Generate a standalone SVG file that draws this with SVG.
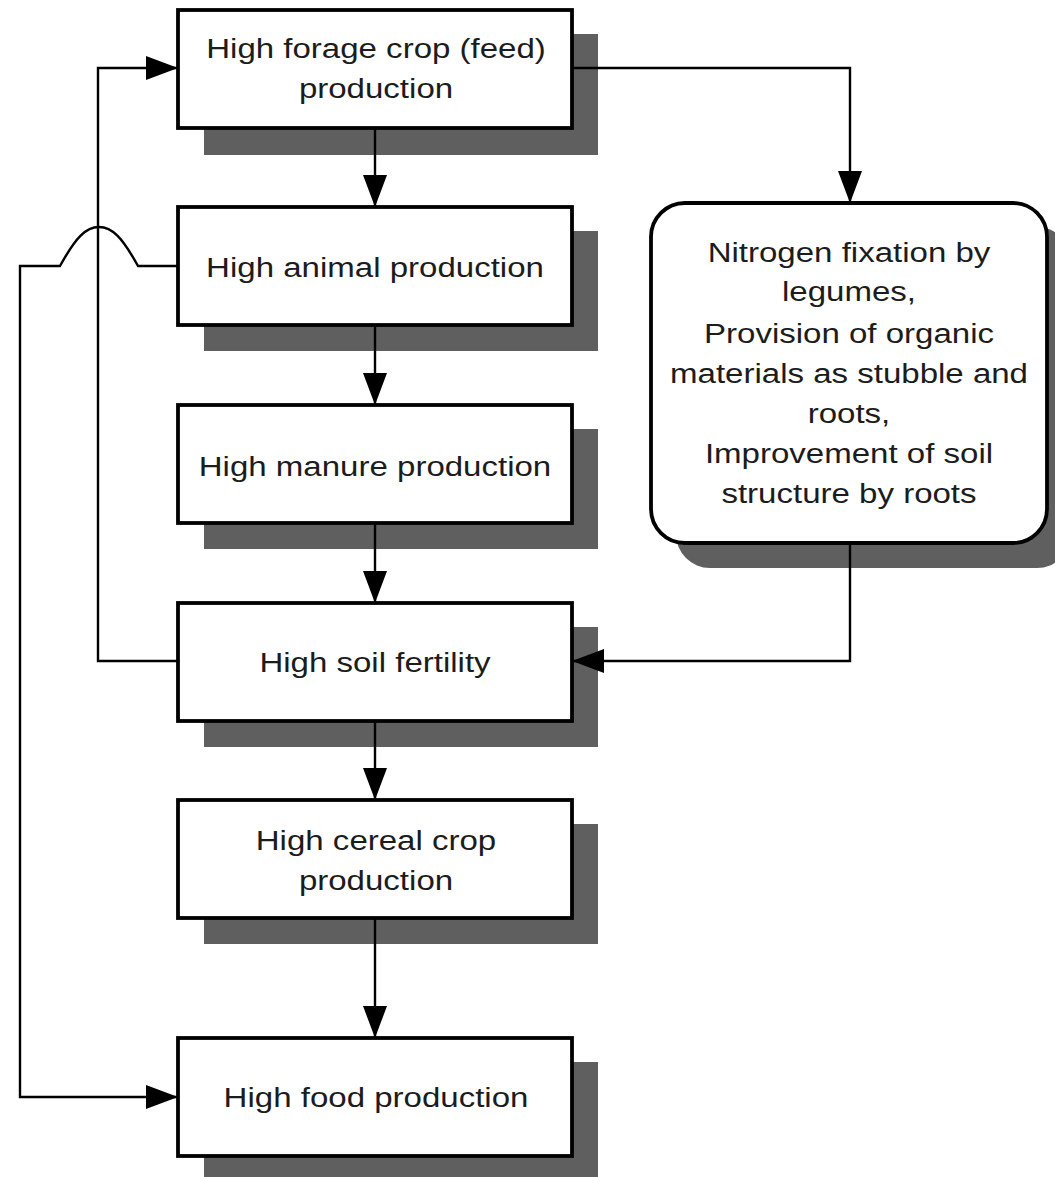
<svg xmlns="http://www.w3.org/2000/svg" width="1055" height="1177" viewBox="0 0 1055 1177">
<style>
.shadow{fill:#5f5f5f;}
.box{fill:#ffffff;stroke:#000000;stroke-width:3.8;}
.lbl{font-family:"Liberation Sans",Arial,sans-serif;font-size:28px;fill:#1c1c1c;text-anchor:middle;}
.conn{fill:none;stroke:#000000;stroke-width:2.4;}
</style>
<defs>
<marker id="arr" viewBox="0 0 32 24" refX="32" refY="12" markerWidth="32" markerHeight="24" markerUnits="userSpaceOnUse" orient="auto">
<path d="M0,0 L32,12 L0,24 Z" fill="#000000"/>
</marker>
</defs>
<rect x="0" y="0" width="1055" height="1177" fill="#ffffff"/>

<g id="forage">
<rect class="shadow" x="204" y="34" width="394" height="121"/>
<rect class="box" x="178" y="10" width="394" height="118"/>
<text class="lbl" transform="translate(376 58) scale(1.18 1)">High forage crop (feed)</text>
<text class="lbl" transform="translate(376 98) scale(1.18 1)">production</text>
</g>

<g id="animal">
<rect class="shadow" x="204" y="231" width="394" height="120"/>
<rect class="box" x="178" y="207" width="394" height="118"/>
<text class="lbl" transform="translate(375 277) scale(1.18 1)">High animal production</text>
</g>

<g id="manure">
<rect class="shadow" x="204" y="429" width="394" height="120"/>
<rect class="box" x="178" y="405" width="394" height="118"/>
<text class="lbl" transform="translate(375 476) scale(1.18 1)">High manure production</text>
</g>

<g id="soil">
<rect class="shadow" x="204" y="627" width="394" height="120"/>
<rect class="box" x="178" y="603" width="394" height="118"/>
<text class="lbl" transform="translate(375 672) scale(1.18 1)">High soil fertility</text>
</g>

<g id="cereal">
<rect class="shadow" x="204" y="824" width="394" height="120"/>
<rect class="box" x="178" y="800" width="394" height="118"/>
<text class="lbl" transform="translate(376 850) scale(1.18 1)">High cereal crop</text>
<text class="lbl" transform="translate(376 890) scale(1.18 1)">production</text>
</g>

<g id="food">
<rect class="shadow" x="204" y="1062" width="394" height="120"/>
<rect class="box" x="178" y="1038" width="394" height="118"/>
<text class="lbl" transform="translate(376 1107) scale(1.18 1)">High food production</text>
</g>

<g id="legumes">
<rect class="shadow" x="676" y="227" width="395" height="341" rx="34" ry="34"/>
<rect class="box" x="651" y="203" width="396" height="340" rx="34" ry="34"/>
<text class="lbl" transform="translate(849 262) scale(1.18 1)">Nitrogen fixation by</text>
<text class="lbl" transform="translate(849 301) scale(1.18 1)">legumes,</text>
<text class="lbl" transform="translate(849 343) scale(1.18 1)">Provision of organic</text>
<text class="lbl" transform="translate(849 383) scale(1.18 1)">materials as stubble and</text>
<text class="lbl" transform="translate(849 423) scale(1.18 1)">roots,</text>
<text class="lbl" transform="translate(849 463) scale(1.18 1)">Improvement of soil</text>
<text class="lbl" transform="translate(849 503) scale(1.18 1)">structure by roots</text>
</g>

<g id="connectors">
<path class="conn" d="M375,128 V207" marker-end="url(#arr)"/>
<path class="conn" d="M375,325 V405" marker-end="url(#arr)"/>
<path class="conn" d="M375,523 V603" marker-end="url(#arr)"/>
<path class="conn" d="M375,721 V800" marker-end="url(#arr)"/>
<path class="conn" d="M375,918 V1038" marker-end="url(#arr)"/>
<path class="conn" d="M572,68 H850 V203" marker-end="url(#arr)"/>
<path class="conn" d="M850,543 V661 H572" marker-end="url(#arr)"/>
<path class="conn" d="M178,661 H98 V68 H178" marker-end="url(#arr)"/>
<path class="conn" d="M178,266 H138 C122,237 112,227 99,227 C86,227 76,237 60,266 H20 V1097 H178" marker-end="url(#arr)"/>
</g>
</svg>
